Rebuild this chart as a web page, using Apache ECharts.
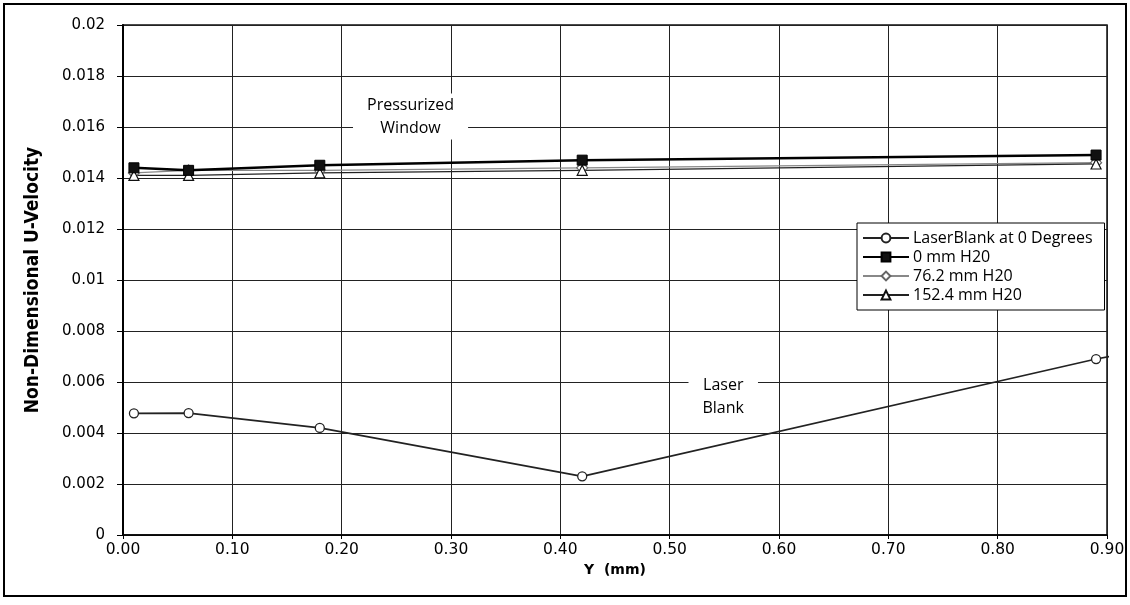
<!DOCTYPE html>
<html>
<head>
<meta charset="utf-8">
<script src="https://cdn.jsdelivr.net/npm/echarts@6/dist/echarts.min.js"></script>
<style>
html,body{margin:0;padding:0;background:#fff;}
#chart{width:1130px;height:605px;}
</style>
</head>
<body>
<div id="chart"></div>
<script>
// ---- data ----
const yPositions = [0.01, 0.06, 0.18, 0.42, 0.89];
const laserBlank = [0.00477, 0.00478, 0.0042, 0.0023, 0.0069];
const laserBlankTailX = 0.91;      // segment continues past the axis end
const laserBlankTailY = 0.00706;
const mm0 = [0.0144, 0.0143, 0.0145, 0.0147, 0.0149];
const mm76 = [0.0142, 0.0143, 0.0143, 0.0144, 0.0146];
const mm152 = [0.0141, 0.0141, 0.0142, 0.0143, 0.01455];
const seriesNames = ['LaserBlank at 0 Degrees', '0 mm H20', '76.2 mm H20', '152.4 mm H20'];
const xTickLabels = ['0.00','0.10','0.20','0.30','0.40','0.50','0.60','0.70','0.80','0.90'];
const yTickLabels = ['0','0.002','0.004','0.006','0.008','0.01','0.012','0.014','0.016','0.018','0.02'];
const annotations = [
  {text: 'Pressurized\nWindow', x: 0.263, y: 0.01641},
  {text: 'Laser\nBlank', x: 0.549, y: 0.00543}
];

const pairs = (xs, ys) => xs.map((x, i) => [x, ys[i]]);
const FONT = '"DejaVu Sans", sans-serif';
const TFONT = '"Open Sans", "DejaVu Sans", sans-serif';

const chart = echarts.init(document.getElementById('chart'), null, {renderer: 'canvas'});

const laserData = pairs(yPositions, laserBlank);
laserData.push({value: [laserBlankTailX, laserBlankTailY], symbol: 'none'});

chart.setOption({
  animation: false,
  backgroundColor: '#fff',
  grid: {left: 123, right: 23, top: 25, bottom: 70, show: true, borderColor: '#111', borderWidth: 1.5},
  xAxis: {
    type: 'value', min: 0, max: 0.9, interval: 0.1,
    name: 'Y  (mm)', nameLocation: 'middle', nameGap: 27,
    nameTextStyle: {fontFamily: FONT, fontSize: 14, fontWeight: 'bold', color: '#000'},
    axisLine: {lineStyle: {color: '#000', width: 1.5}},
    axisTick: {show: true, length: 4, lineStyle: {color: '#000'}},
    axisLabel: {
      margin: 7, fontFamily: FONT, fontSize: 15.5, color: '#000',
      formatter: v => xTickLabels[Math.round(v / 0.1)] ?? ''
    },
    splitLine: {show: true, lineStyle: {color: '#222', width: 1}}
  },
  yAxis: {
    type: 'value', min: 0, max: 0.02, interval: 0.002,
    name: 'Non-Dimensional U-Velocity', nameLocation: 'middle', nameGap: 80, nameRotate: 90,
    nameTextStyle: {fontFamily: '"DejaVu Sans Condensed", "Liberation Sans Narrow", sans-serif', fontSize: 19, fontWeight: 'bold', color: '#000'},
    axisLine: {show: true, lineStyle: {color: '#000', width: 2}},
    axisTick: {show: true, length: 6, lineStyle: {color: '#000'}},
    axisLabel: {
      margin: 18, fontFamily: FONT, fontSize: 15, color: '#000',
      formatter: v => yTickLabels[Math.round(v / 0.002)] ?? ''
    },
    splitLine: {show: true, lineStyle: {color: '#222', width: 1}}
  },
  legend: {
    orient: 'vertical', left: 857, top: 223,
    backgroundColor: '#fff', borderColor: '#000', borderWidth: 1,
    padding: [6, 12, 6, 5], itemGap: 1, itemWidth: 46, itemHeight: 11,
    textStyle: {fontFamily: TFONT, fontSize: 16, lineHeight: 18, color: '#000', padding: [0, 0, 0, -1]},
    data: seriesNames
  },
  series: [
    {
      name: seriesNames[0], type: 'line', data: laserData, clip: false,
      symbol: 'circle', symbolSize: 9,
      lineStyle: {color: '#222', width: 1.6},
      itemStyle: {color: '#fff', borderColor: '#222', borderWidth: 1.3},
      z: 3
    },
    {
      name: seriesNames[1], type: 'line', data: pairs(yPositions, mm0),
      symbol: 'rect', symbolSize: 10,
      lineStyle: {color: '#000', width: 2.5},
      itemStyle: {color: '#111', borderColor: '#000', borderWidth: 1},
      z: 4
    },
    {
      name: seriesNames[2], type: 'line', data: pairs(yPositions, mm76),
      symbol: 'diamond', symbolSize: 11,
      lineStyle: {color: '#888', width: 1.2},
      itemStyle: {color: '#fff', borderColor: '#666', borderWidth: 1.2},
      z: 3
    },
    {
      name: seriesNames[3], type: 'line', data: pairs(yPositions, mm152),
      symbol: 'triangle', symbolSize: 10,
      lineStyle: {color: '#222', width: 1.3},
      itemStyle: {color: '#fff', borderColor: '#111', borderWidth: 1.2},
      z: 3
    }
  ]
});

// annotations placed through the chart's own coordinate system
const annGraphics = annotations.map(a => {
  const p = chart.convertToPixel({gridIndex: 0}, [a.x, a.y]);
  return {
    type: 'text', x: p[0], y: p[1], z: 50, silent: true,
    style: {
      text: a.text, align: 'center', verticalAlign: 'middle',
      font: '16px "Open Sans", "DejaVu Sans", sans-serif', lineHeight: 23,
      fill: '#000', backgroundColor: '#fff', padding: [0, 14]
    }
  };
});
annGraphics.push({
  type: 'rect', shape: {x: 4, y: 4, width: 1122, height: 592},
  style: {fill: 'none', stroke: '#000', lineWidth: 2}, silent: true, z: 100
});
chart.setOption({graphic: annGraphics});
</script>
</body>
</html>
